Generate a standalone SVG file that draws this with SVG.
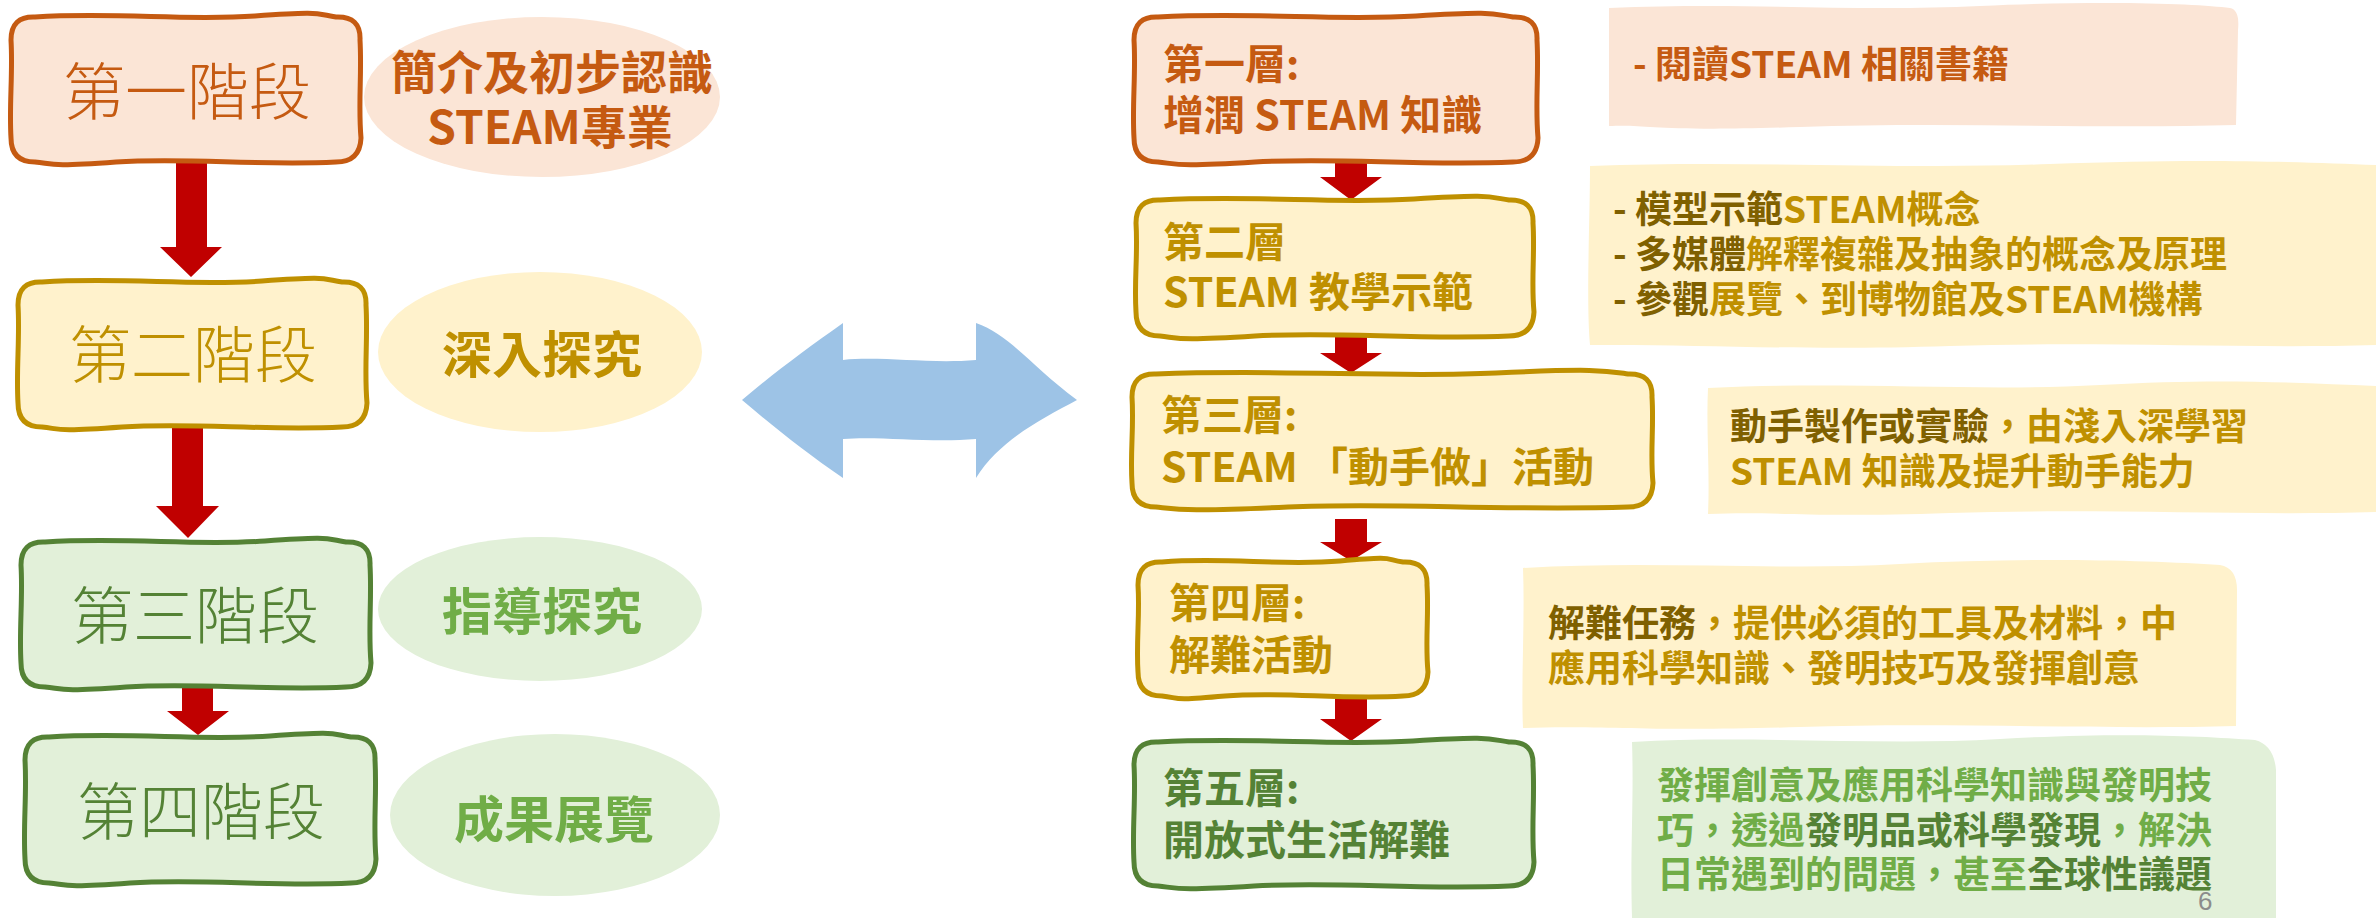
<svg xmlns="http://www.w3.org/2000/svg" width="2376" height="918" viewBox="0 0 2376 918">
<style>
.bx{stroke-width:5;stroke-linejoin:round}
.or{fill:#FBE5D6;stroke:#C55A11}
.go{fill:#FFF2CC;stroke:#BF9000}
.gr{fill:#E2F0D9;stroke:#548235}
.stg{font-family:"Noto Sans CJK TC","Noto Sans CJK SC",sans-serif;font-size:62px;font-weight:300;text-anchor:middle}
.ell{font-family:"Noto Sans CJK TC","Noto Sans CJK SC",sans-serif;font-weight:700;text-anchor:middle}
.lay{font-family:"Noto Sans CJK TC","Noto Sans CJK SC",sans-serif;font-size:41px;font-weight:700}
.note{font-family:"Noto Sans CJK TC","Noto Sans CJK SC",sans-serif;font-size:37px;font-weight:700}
.red{fill:#C00000}
.cO{fill:#C55A11}.cG{fill:#BF9000}.cD{fill:#7F6000}.cL{fill:#70AD47}.cN{fill:#548235}
</style>
<rect width="2376" height="918" fill="#FFFFFF"/>

<g id="connectors">
<polygon class="red" points="176,162 207,162 207,247 222,247 191,277 160,247 176,247"/>
<polygon class="red" points="172,427 203,427 203,506 219,506 188,538 156,506 172,506"/>
<polygon class="red" points="182,687 213,687 213,711 229,711 198,735 167,711 182,711"/>
<polygon class="red" points="1335,162 1367,162 1367,177 1382,177 1351,200 1320,177 1335,177"/>
<polygon class="red" points="1335,336 1367,336 1367,353 1382,353 1351,373 1320,353 1335,353"/>
<polygon class="red" points="1335,519 1367,519 1367,542 1382,542 1351,561 1320,542 1335,542"/>
<polygon class="red" points="1335,696 1367,696 1367,719 1382,719 1351,741 1320,719 1335,719"/>
<path id="double-arrow" fill="#9DC3E6" d="M742,400 C775,372 805,350 843,323 L843,360 C880,356 930,364 976,360 L976,323 C1010,335 1030,365 1077,400 C1040,420 1000,440 976,478 L976,439 C930,443 880,436 843,439 L843,478 C805,452 775,428 742,400 Z"/>
</g>

<g id="stage1">
<path class="bx or" d="M35,17 C116,12 186,21 255,16 S316,14 336,17 Q361,16 360,40 C362,74 358,104 361,138 Q360,162 336,162 C255,166 186,157 116,162 S55,164 35,162 Q11,162 11,138 C9,104 13,74 11,40 Q11,16 35,17 Z"/>
<text class="stg cO" x="187" y="115">第一階段</text>
</g>
<g id="stage1-note">
<ellipse cx="542" cy="97" rx="178" ry="80" fill="#FBE5D6"/>
<text class="ell cO" font-size="46" x="552" y="89">簡介及初步認識</text>
<text class="ell cO" font-size="46" x="550" y="144">STEAM專業</text>
</g>

<g id="stage2">
<path class="bx go" d="M42,282 C122,277 192,286 262,281 S322,279 342,282 Q367,281 366,305 C368,339 364,369 367,403 Q366,427 342,427 C262,431 192,422 122,427 S62,429 42,427 Q18,427 18,403 C16,369 20,339 18,305 Q18,281 42,282 Z"/>
<text class="stg cG" x="193" y="378">第二階段</text>
</g>
<g id="stage2-note">
<ellipse cx="540" cy="352" rx="162" ry="80" fill="#FFF2CC"/>
<text class="ell cG" font-size="50" x="542" y="373">深入探究</text>
</g>

<g id="stage3">
<path class="bx gr" d="M45,542 C126,537 196,546 265,541 S326,539 346,542 Q371,541 370,565 C372,599 368,629 371,663 Q370,687 346,687 C265,691 196,682 126,687 S65,689 45,687 Q21,687 21,663 C19,629 23,599 21,565 Q21,541 45,542 Z"/>
<text class="stg cN" x="195" y="639">第三階段</text>
</g>
<g id="stage3-note">
<ellipse cx="540" cy="609" rx="162" ry="72" fill="#E2F0D9"/>
<text class="ell cL" font-size="50" x="542" y="630">指導探究</text>
</g>

<g id="stage4">
<path class="bx gr" d="M49,737 C130,732 200,741 270,736 S331,734 351,737 Q376,736 375,760 C377,795 373,824 376,859 Q375,883 351,883 C270,887 200,878 130,883 S69,885 49,883 Q25,883 25,859 C23,824 27,795 25,760 Q25,736 49,737 Z"/>
<text class="stg cN" x="201" y="835">第四階段</text>
</g>
<g id="stage4-note">
<ellipse cx="555" cy="815" rx="165" ry="81" fill="#E2F0D9"/>
<text class="ell cL" font-size="50" x="554" y="838">成果展覽</text>
</g>

<g id="layer1">
<path class="bx or" d="M1158,17 C1255,12 1336,21 1416,16 S1493,14 1513,17 Q1538,16 1537,40 C1539,74 1535,104 1538,138 Q1537,162 1513,162 C1416,166 1336,157 1255,162 S1178,164 1158,162 Q1134,162 1134,138 C1132,104 1136,74 1134,40 Q1134,16 1158,17 Z"/>
<text class="lay cO" x="1163" y="79">第一層:</text>
<text class="lay cO" x="1163" y="130">增潤 STEAM 知識</text>
</g>
<g id="layer2">
<path class="bx go" d="M1160,200 C1255,195 1335,204 1414,199 S1489,197 1509,200 Q1534,199 1533,223 C1535,254 1531,281 1534,312 Q1533,336 1509,336 C1414,340 1335,331 1255,336 S1180,338 1160,336 Q1136,336 1136,312 C1134,281 1138,254 1136,223 Q1136,199 1160,200 Z"/>
<text class="lay cG" x="1163" y="257">第二層</text>
<text class="lay cG" x="1163" y="307">STEAM 教學示範</text>
</g>
<g id="layer3">
<path class="bx go" d="M1156,374 C1288,369 1392,378 1496,373 S1608,371 1628,374 Q1653,373 1652,397 C1654,427 1650,453 1653,483 Q1652,507 1628,507 C1496,511 1392,502 1288,507 S1176,509 1156,507 Q1132,507 1132,483 C1130,453 1134,427 1132,397 Q1132,373 1156,374 Z"/>
<text class="lay cG" x="1161" y="430">第三層:</text>
<text class="lay cG" x="1161" y="482">STEAM 「動手做」活動</text>
</g>
<g id="layer4">
<path class="bx go" d="M1162,562 C1225,557 1282,566 1340,561 S1383,559 1403,562 Q1428,561 1427,585 C1429,615 1425,642 1428,672 Q1427,696 1403,696 C1340,700 1282,691 1225,696 S1182,698 1162,696 Q1138,696 1138,672 C1136,642 1140,615 1138,585 Q1138,561 1162,562 Z"/>
<text class="lay cG" x="1169" y="618">第四層:</text>
<text class="lay cG" x="1169" y="670">解難活動</text>
</g>
<g id="layer5">
<path class="bx gr" d="M1158,742 C1254,737 1334,746 1413,741 S1489,739 1509,742 Q1534,741 1533,765 C1535,799 1531,828 1534,862 Q1533,886 1509,886 C1413,890 1334,881 1254,886 S1178,888 1158,886 Q1134,886 1134,862 C1132,828 1136,799 1134,765 Q1134,741 1158,742 Z"/>
<text class="lay cN" x="1163" y="803">第五層:</text>
<text class="lay cN" x="1163" y="855">開放式生活解難</text>
</g>

<g id="note1">
<path fill="#FBE5D6" d="M1609,8 C1750,2 1850,12 1980,6 S2200,4 2230,8 Q2240,10 2238,30 L2236,125 C2100,129 1950,122 1800,127 S1650,124 1609,126 Z"/>
<text class="note cO" font-size="38" x="1633" y="78">- 閱讀STEAM 相關書籍</text>
</g>
<g id="note2">
<path fill="#FFF2CC" d="M1590,166 C1750,160 1900,170 2050,164 S2300,162 2376,165 L2376,345 C2250,349 2100,341 1950,346 S1700,344 1590,345 C1586,300 1590,220 1590,166 Z"/>
<text class="note" x="1613" y="223"><tspan class="cD">- 模型示範</tspan><tspan class="cG">STEAM概念</tspan></text>
<text class="note" x="1613" y="268"><tspan class="cD">- 多媒體</tspan><tspan class="cG">解釋複雜及抽象的概念及原理</tspan></text>
<text class="note" x="1613" y="313"><tspan class="cD">- 參觀</tspan><tspan class="cG">展覽、到博物館及STEAM機構</tspan></text>
</g>
<g id="note3">
<path fill="#FFF2CC" d="M1708,388 C1850,381 1980,392 2100,385 S2300,383 2376,386 L2376,512 C2250,516 2100,508 1950,513 S1780,511 1708,514 C1710,470 1706,430 1708,388 Z"/>
<text class="note" x="1730" y="440"><tspan class="cD">動手製作或實驗</tspan><tspan class="cG">，由淺入深學習</tspan></text>
<text class="note cG" x="1730" y="485">STEAM 知識及提升動手能力</text>
</g>
<g id="note4">
<path fill="#FFF2CC" d="M1523,568 C1650,560 1780,571 1900,564 S2150,560 2220,565 Q2237,568 2237,590 L2236,726 C2100,730 1950,722 1800,727 S1600,725 1523,728 C1521,680 1525,620 1523,568 Z"/>
<text class="note" x="1548" y="637"><tspan class="cD">解難任務</tspan><tspan class="cG">，提供必須的工具及材料，中</tspan></text>
<text class="note cG" x="1548" y="682">應用科學知識、發明技巧及發揮創意</text>
</g>
<g id="note5">
<path fill="#E2F0D9" d="M1632,742 C1750,735 1880,746 2000,739 S2200,736 2255,740 Q2274,745 2276,770 L2276,918 L1632,918 C1630,850 1634,800 1632,742 Z"/>
<text class="note cL" x="1657" y="799">發揮創意及應用科學知識與發明技</text>
<text class="note" x="1657" y="844"><tspan class="cL">巧，透過</tspan><tspan class="cN">發明品或科學發現</tspan><tspan class="cL">，解決</tspan></text>
<text class="note" x="1657" y="888"><tspan class="cL">日常遇到的問題，甚至</tspan><tspan class="cN">全球性議題</tspan></text>
</g>
<text id="page-number" x="2198" y="910" font-family="Liberation Sans, sans-serif" font-size="26" fill="#8C8C8C">6</text>
</svg>
